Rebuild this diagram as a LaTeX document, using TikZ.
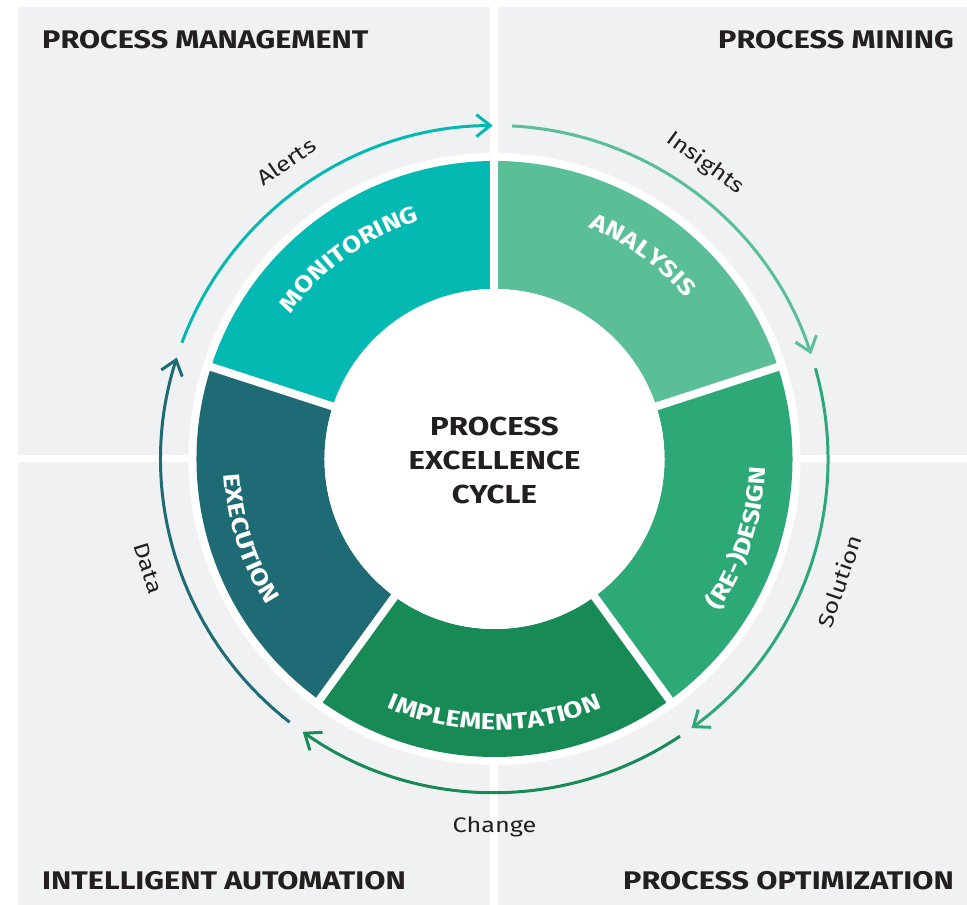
\documentclass[tikz,border=0pt]{standalone}
\usepackage{fontspec}
\setmainfont{Fira Sans}[FakeStretch=1.2]
\usetikzlibrary{arrows.meta,decorations.text}
\definecolor{bggrey}{HTML}{F0F1F3}
\definecolor{inkdark}{HTML}{231F20}
\definecolor{cmonitor}{HTML}{05B9B3}
\definecolor{canalysis}{HTML}{5ABF96}
\definecolor{cdesign}{HTML}{2DA977}
\definecolor{cimpl}{HTML}{178A55}
\definecolor{cexec}{HTML}{1E6B75}
\newcommand\segfont{\fontsize{23}{23}\selectfont\bfseries}
\tikzset{
  segtext/.style={decorate, decoration={text along path, text align=center,
      text color=white, text={|\segfont|#1}}},
  quadtitle/.style={inner sep=0pt, text=inkdark, font=\fontsize{25.5}{25.5}\selectfont\bfseries},
  arclabel/.style={inner sep=0pt, text=inkdark, font=\fontsize{21}{21}\selectfont},
  cyclearc/.style={line width=3pt, line cap=butt, -{Straight Barb[length=14pt, width=22pt]}}
}
\begin{document}
\begin{tikzpicture}[x=1pt, y=1pt, line join=round]
  \def\rin{170} \def\rout{298} \def\rdisc{306} \def\rarc{333.5} \def\rlab{363}
  \useasboundingbox (-494.5,-446) rectangle (472.5,459);
  % quadrants
  \fill[bggrey] (-476.5,-446) rectangle (472.5,452);
  \fill[white] (-4,-446) rectangle (4,452);
  \fill[white] (-476.5,-3.5) rectangle (472.5,3.5);
  \fill[white] (0,0) circle (\rdisc);
  % ring segments
  \foreach \a/\c in {90/cmonitor, 18/canalysis, -54/cdesign, -126/cimpl, 162/cexec}
    \fill[\c] (\a:\rin) arc[start angle=\a, end angle=\a+72, radius=\rin]
      -- (\a+72:\rout) arc[start angle=\a+72, end angle=\a, radius=\rout] -- cycle;
  \foreach \a in {90,18,-54,-126,162}
    \draw[white, line width=8pt] (\a:160) -- (\a:\rdisc);
  \fill[white] (0,0) circle (\rin);
  \node[align=center, inner sep=0pt, text=inkdark, font=\fontsize{26}{34}\selectfont\bfseries]
    (cycle) at (0,-1) {PROCESS\\EXCELLENCE\\CYCLE};
  % segment labels
  \path[segtext=MONITORING] (162:250) arc[start angle=162, end angle=90, radius=250];
  \path[segtext=ANALYSIS] (90:250) arc[start angle=90, end angle=18, radius=250];
  \path[segtext=(RE-)DESIGN] (-54:271) arc[start angle=-54, end angle=18, radius=271];
  \path[segtext=IMPLEMENTATION] (-126:271) arc[start angle=-126, end angle=-54, radius=271];
  \path[segtext=EXECUTION] (162:271) arc[start angle=162, end angle=234, radius=271];
  % outer arrows
  \draw[cyclearc, cmonitor] (159.6:\rarc) arc[start angle=159.6, end angle=90.3, radius=\rarc];
  \draw[cyclearc, canalysis] (87:\rarc) arc[start angle=87, end angle=18.3, radius=\rarc];
  \draw[cyclearc, cdesign] (15.8:\rarc) arc[start angle=15.8, end angle=-53.8, radius=\rarc];
  \draw[cyclearc, cimpl] (-56.2:\rarc) arc[start angle=-56.2, end angle=-125.1, radius=\rarc];
  \draw[cyclearc, cexec] (232.1:\rarc) arc[start angle=232.1, end angle=162.3, radius=\rarc];
  \node[arclabel, rotate=35] (alerts) at (125:\rlab) {Alerts};
  \node[arclabel, rotate=-36] (insights) at (54.5:\rlab) {Insights};
  \node[arclabel, rotate=71] (solution) at (-19.5:366) {Solution};
  \node[arclabel] (change) at (-90:368) {Change};
  \node[arclabel, rotate=-72.5] (data) at (197.5:\rlab) {Data};
  % quadrant titles
  \node[quadtitle, anchor=base west] (management) at (-452.5,410) {PROCESS MANAGEMENT};
  \node[quadtitle, anchor=base east] (mining) at (459.5,410) {PROCESS MINING};
  \node[quadtitle, anchor=base west] (automation) at (-452.5,-430) {INTELLIGENT AUTOMATION};
  \node[quadtitle, anchor=base east] (optimization) at (459.5,-430) {PROCESS OPTIMIZATION};
\end{tikzpicture}
\end{document}
